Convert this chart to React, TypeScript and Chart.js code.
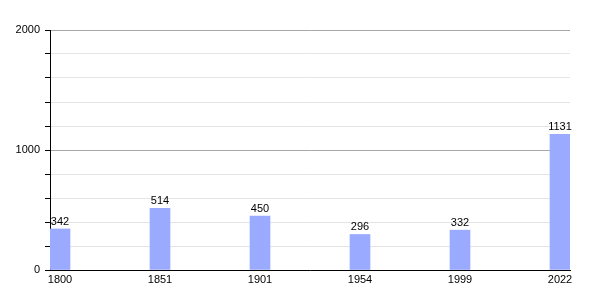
import React, { useEffect, useRef } from "react";
import { Chart, registerables } from "chart.js";

Chart.register(...registerables);

const years = ["1800", "1851", "1901", "1954", "1999", "2022"];
const population = [342, 514, 450, 296, 332, 1131];
const yMax = 2000;
const yStep = 200;
const yLabelStep = 1000;

const FONT = "'Liberation Sans', Arial, sans-serif";

const valueLabels = {
  id: "valueLabels",
  afterDatasetsDraw(chart: any) {
    const ctx = chart.ctx;
    const meta = chart.getDatasetMeta(0);
    ctx.save();
    ctx.font = `11px ${FONT}`;
    ctx.fillStyle = "#000";
    ctx.textAlign = "center";
    ctx.textBaseline = "alphabetic";
    meta.data.forEach((bar: any, i: number) => {
      ctx.fillText(String(population[i]), bar.x, bar.y - 4);
    });
    ctx.restore();
  },
};

export default function App() {
  const ref = useRef<HTMLCanvasElement>(null);
  useEffect(() => {
    const chart = new Chart(ref.current!, {
      type: "bar",
      data: {
        datasets: [
          {
            data: population.map((v, i) => ({ x: i, y: v })),
            backgroundColor: "#99aaff",
            barThickness: 20,
            borderWidth: 0,
          },
        ],
      },
      options: {
        animation: false,
        responsive: false,
        maintainAspectRatio: false,
        layout: { padding: { top: 30, right: 30, left: 0, bottom: 0 } },
        plugins: { legend: { display: false }, tooltip: { enabled: false } },
        scales: {
          x: {
            type: "linear",
            offset: false,
            min: -0.1,
            max: years.length - 0.9,
            afterBuildTicks: (scale: any) => {
              scale.ticks = years.map((_, i) => ({ value: i }));
            },
            afterFit: (scale: any) => {
              scale.height = 30;
            },
            grid: { display: false, offset: false, drawTicks: false },
            border: { color: "#000", width: 1 },
            ticks: {
              color: "#000",
              font: { family: FONT, size: 11 },
              padding: 3,
              maxRotation: 0,
              autoSkip: false,
              callback: (v: any) => years[v as number] ?? "",
            },
          },
          y: {
            min: 0,
            max: yMax,
            afterFit: (scale: any) => {
              scale.width = 50;
            },
            border: { color: "#000", width: 1 },
            grid: {
              color: (c: any) =>
                c.tick && c.tick.value % yLabelStep === 0 ? "#a8a8a8" : "#e4e4e4",
              tickColor: "#000",
              tickLength: 5,
            },
            ticks: {
              stepSize: yStep,
              color: "#000",
              font: { family: FONT, size: 11 },
              padding: 5,
              autoSkip: false,
              callback: (v: any) => (Number(v) % yLabelStep === 0 ? String(v) : ""),
            },
          },
        },
      },
      plugins: [valueLabels],
    });
    return () => chart.destroy();
  }, []);
  return (
    <div style={{ position: "fixed", left: 0, top: 0, width: 600, height: 300, background: "#fff" }}>
      <canvas ref={ref} width={600} height={300} />
    </div>
  );
}
